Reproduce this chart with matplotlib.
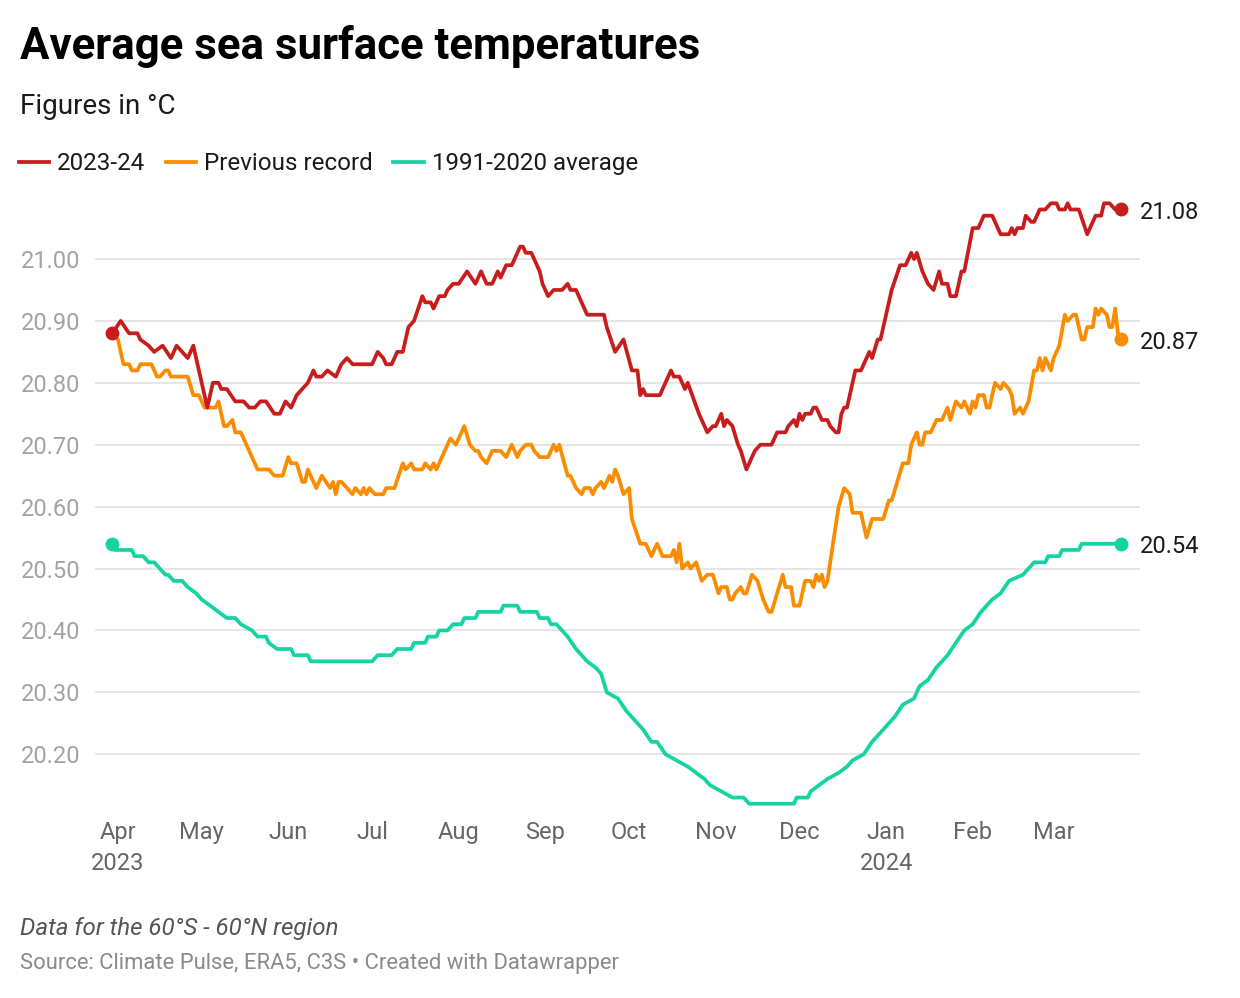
import matplotlib
matplotlib.use("Agg")
import matplotlib.pyplot as plt
import pandas as pd

plt.rcParams['font.family'] = ['Roboto', 'DejaVu Sans']

# days counted from 1 April 2023
red_days = [-2, 1, 4, 7, 8, 11, 13, 16, 19, 21, 25, 27, 32, 34, 36, 37, 39, 42, 45, 47, 49, 51, 53, 56, 58,
            60, 62, 64, 68, 70, 71, 73, 75, 78, 80, 82, 84, 91, 93, 95, 96, 98, 100, 102, 104, 106, 109, 110,
            112, 113, 115, 117, 118, 120, 122, 125, 128, 130, 132, 134, 136, 137, 139, 141, 142, 144, 145, 146,
            148, 151, 152, 154, 156, 159, 161, 162, 164, 168, 174, 175, 178, 181, 184, 186, 187, 188, 189, 194,
            198, 199, 201, 203, 204, 208, 211, 213, 214, 216, 217, 218, 220, 222, 223, 225, 228, 230, 234, 236,
            239, 240, 242, 243, 244, 245, 246, 248, 249, 250, 252, 254, 255, 257, 258, 259, 260, 261, 264, 266,
            269, 270, 272, 273, 275, 277, 280, 282, 284, 285, 286, 288, 290, 292, 294, 295, 297, 298, 300, 302,
            303, 306, 308, 310, 313, 316, 319, 320, 321, 322, 324, 325, 327, 328, 330, 332, 334, 336, 337, 339,
            340, 341, 344, 347, 350, 352, 353, 355, 357, 359]
red_vals = [20.88, 20.90, 20.88, 20.88, 20.87, 20.86, 20.85, 20.86, 20.84, 20.86, 20.84, 20.86, 20.76, 20.80,
            20.80, 20.79, 20.79, 20.77, 20.77, 20.76, 20.76, 20.77, 20.77, 20.75, 20.75, 20.77, 20.76, 20.78,
            20.80, 20.82, 20.81, 20.81, 20.82, 20.81, 20.83, 20.84, 20.83, 20.83, 20.85, 20.84, 20.83, 20.83,
            20.85, 20.85, 20.89, 20.90, 20.94, 20.93, 20.93, 20.92, 20.94, 20.94, 20.95, 20.96, 20.96, 20.98,
            20.96, 20.98, 20.96, 20.96, 20.98, 20.97, 20.99, 20.99, 21.00, 21.02, 21.02, 21.01, 21.01, 20.98,
            20.96, 20.94, 20.95, 20.95, 20.96, 20.95, 20.95, 20.91, 20.91, 20.89, 20.85, 20.87, 20.82, 20.82,
            20.78, 20.79, 20.78, 20.78, 20.82, 20.81, 20.81, 20.79, 20.80, 20.75, 20.72, 20.73, 20.73, 20.75,
            20.73, 20.74, 20.73, 20.70, 20.69, 20.66, 20.69, 20.70, 20.70, 20.72, 20.72, 20.73, 20.74, 20.73,
            20.75, 20.74, 20.75, 20.75, 20.76, 20.76, 20.74, 20.74, 20.73, 20.72, 20.72, 20.75, 20.76, 20.76,
            20.82, 20.82, 20.85, 20.84, 20.87, 20.87, 20.91, 20.95, 20.99, 20.99, 21.01, 21.00, 21.01, 20.98,
            20.96, 20.95, 20.98, 20.96, 20.96, 20.94, 20.94, 20.98, 20.98, 21.05, 21.05, 21.07, 21.07, 21.04,
            21.04, 21.05, 21.04, 21.05, 21.05, 21.07, 21.06, 21.06, 21.08, 21.08, 21.09, 21.09, 21.08, 21.08,
            21.09, 21.08, 21.08, 21.04, 21.07, 21.07, 21.09, 21.09, 21.08, 21.08]

rec_days = [-2, 0, 2, 4, 5, 7, 8, 12, 14, 15, 17, 18, 19, 25, 27, 29, 31, 35, 36, 38, 39, 41, 42, 44, 50, 54,
            56, 59, 61, 62, 64, 66, 67, 68, 71, 73, 76, 77, 78, 79, 80, 82, 84, 85, 87, 88, 89, 90, 92, 95, 96,
            99, 102, 103, 105, 106, 109, 110, 112, 113, 114, 116, 119, 121, 124, 126, 128, 129, 130, 132, 134,
            137, 139, 141, 143, 144, 146, 148, 149, 151, 154, 156, 157, 158, 161, 162, 164, 166, 167, 169, 170,
            171, 173, 174, 176, 177, 178, 179, 181, 183, 184, 187, 189, 191, 193, 195, 198, 199, 200, 201, 202,
            204, 205, 207, 209, 211, 213, 215, 216, 218, 219, 220, 221, 223, 224, 225, 227, 229, 231, 233, 234,
            236, 238, 239, 241, 242, 244, 246, 248, 249, 250, 251, 252, 253, 254, 258, 260, 262, 263, 266, 267,
            268, 270, 274, 276, 277, 279, 281, 283, 284, 286, 287, 288, 289, 291, 292, 293, 295, 296, 297, 298,
            300, 302, 303, 305, 306, 307, 308, 310, 311, 312, 314, 316, 317, 319, 320, 321, 323, 324, 326, 328,
            329, 330, 331, 332, 334, 335, 337, 339, 340, 342, 343, 345, 346, 347, 349, 350, 351, 352, 354, 355,
            356, 357, 358, 359]
rec_vals = [20.88, 20.87, 20.83, 20.83, 20.82, 20.82, 20.83, 20.83, 20.81, 20.81, 20.82, 20.82, 20.81, 20.81,
            20.78, 20.78, 20.76, 20.76, 20.77, 20.73, 20.73, 20.74, 20.72, 20.72, 20.66, 20.66, 20.65, 20.65,
            20.68, 20.67, 20.67, 20.64, 20.64, 20.66, 20.63, 20.65, 20.63, 20.64, 20.62, 20.64, 20.64, 20.63,
            20.62, 20.63, 20.62, 20.63, 20.62, 20.63, 20.62, 20.62, 20.63, 20.63, 20.67, 20.66, 20.67, 20.66,
            20.66, 20.67, 20.66, 20.67, 20.66, 20.68, 20.71, 20.70, 20.73, 20.70, 20.69, 20.69, 20.68, 20.67,
            20.69, 20.69, 20.68, 20.70, 20.68, 20.69, 20.70, 20.70, 20.69, 20.68, 20.68, 20.70, 20.69, 20.70,
            20.65, 20.65, 20.63, 20.62, 20.63, 20.63, 20.62, 20.63, 20.64, 20.63, 20.65, 20.64, 20.66, 20.65,
            20.62, 20.63, 20.58, 20.54, 20.54, 20.52, 20.54, 20.52, 20.52, 20.53, 20.51, 20.54, 20.50, 20.51,
            20.50, 20.51, 20.48, 20.49, 20.49, 20.46, 20.47, 20.47, 20.45, 20.45, 20.46, 20.47, 20.46, 20.46,
            20.49, 20.48, 20.45, 20.43, 20.43, 20.46, 20.49, 20.47, 20.47, 20.44, 20.44, 20.48, 20.48, 20.47,
            20.49, 20.48, 20.49, 20.47, 20.48, 20.60, 20.63, 20.62, 20.59, 20.59, 20.57, 20.55, 20.58, 20.58,
            20.61, 20.61, 20.64, 20.67, 20.67, 20.70, 20.72, 20.70, 20.70, 20.72, 20.72, 20.73, 20.74, 20.74,
            20.75, 20.76, 20.74, 20.77, 20.76, 20.77, 20.75, 20.77, 20.76, 20.78, 20.78, 20.76, 20.76, 20.80,
            20.79, 20.80, 20.79, 20.78, 20.75, 20.76, 20.75, 20.77, 20.82, 20.82, 20.84, 20.82, 20.84, 20.82,
            20.84, 20.86, 20.91, 20.90, 20.91, 20.91, 20.87, 20.87, 20.89, 20.89, 20.92, 20.91, 20.92, 20.91,
            20.89, 20.89, 20.92, 20.88, 20.87]

avg_days = [-2, -1, 5, 6, 9, 11, 13, 15, 17, 18, 20, 23, 25, 28, 30, 33, 36, 39, 42, 44, 48, 50, 53, 54, 57,
            62, 63, 68, 69, 91, 93, 98, 100, 105, 106, 110, 111, 114, 115, 118, 120, 123, 124, 128, 129, 137,
            138, 143, 144, 150, 151, 154, 155, 157, 161, 164, 168, 171, 173, 175, 179, 182, 184, 188, 191, 193,
            196, 200, 204, 207, 210, 212, 216, 220, 224, 226, 242, 243, 247, 248, 251, 254, 258, 261, 263, 267,
            270, 274, 278, 281, 285, 287, 290, 293, 297, 300, 303, 306, 309, 313, 316, 319, 324, 328, 332, 333,
            337, 338, 344, 345, 359]
avg_vals = [20.54, 20.53, 20.53, 20.52, 20.52, 20.51, 20.51, 20.50, 20.49, 20.49, 20.48, 20.48, 20.47, 20.46,
            20.45, 20.44, 20.43, 20.42, 20.42, 20.41, 20.40, 20.39, 20.39, 20.38, 20.37, 20.37, 20.36, 20.36,
            20.35, 20.35, 20.36, 20.36, 20.37, 20.37, 20.38, 20.38, 20.39, 20.39, 20.40, 20.40, 20.41, 20.41,
            20.42, 20.42, 20.43, 20.43, 20.44, 20.44, 20.43, 20.43, 20.42, 20.42, 20.41, 20.41, 20.39, 20.37,
            20.35, 20.34, 20.33, 20.30, 20.29, 20.27, 20.26, 20.24, 20.22, 20.22, 20.20, 20.19, 20.18, 20.17,
            20.16, 20.15, 20.14, 20.13, 20.13, 20.12, 20.12, 20.13, 20.13, 20.14, 20.15, 20.16, 20.17, 20.18,
            20.19, 20.20, 20.22, 20.24, 20.26, 20.28, 20.29, 20.31, 20.32, 20.34, 20.36, 20.38, 20.40, 20.41,
            20.43, 20.45, 20.46, 20.48, 20.49, 20.51, 20.51, 20.52, 20.52, 20.53, 20.53, 20.54, 20.54]

series_names = ["2023-24", "Previous record", "1991-2020 average"]
colors = ["#c71e1d", "#fa8c00", "#15d4a1"]
y_ticks = [20.2, 20.3, 20.4, 20.5, 20.6, 20.7, 20.8, 20.9, 21.0]
month_labels = ["Apr\n2023", "May", "Jun", "Jul", "Aug", "Sep", "Oct", "Nov", "Dec", "Jan\n2024", "Feb", "Mar"]

base = pd.Timestamp("2023-04-01")


def to_dates(days):
    return base + pd.to_timedelta(days, unit="D")


W, H = 1240, 998
fig = plt.figure(figsize=(W / 100, H / 100), dpi=100)
ax = fig.add_axes([95 / W, 1 - 810 / H, 1045 / W, 620 / H])

series = [(red_days, red_vals), (rec_days, rec_vals), (avg_days, avg_vals)]
lines = []
for (d, v), c, name, z in zip(series, colors, series_names, [5, 4, 3]):
    dates = to_dates(d)
    ln, = ax.plot(dates, v, color=c, lw=2.7, solid_joinstyle="round", zorder=z, label=name)
    lines.append(ln)
    if name != "Previous record":
        ax.plot(dates[:1], v[:1], "o", color=c, ms=9, zorder=z + 1)
    ax.plot(dates[-1:], v[-1:], "o", color=c, ms=9, zorder=z + 1)
    ax.annotate(f"{v[-1]:.2f}", (dates[-1], v[-1]), xytext=(14, -2), textcoords="offset points",
                va="center", ha="left", fontsize=17, color="#1a1a1a", annotation_clip=False)

ax.set_xlim(base + pd.Timedelta(days=-8.2), base + pd.Timedelta(days=365.9))
ax.set_ylim(20.1099, 21.1115)

ax.set_yticks(y_ticks)
ax.set_yticklabels([f"{t:.2f}" for t in y_ticks])
ax.grid(axis="y", color="#e1e1e1", lw=1.2, zorder=0)
ax.tick_params(axis="y", length=0, pad=10.5, labelsize=17, labelcolor="#a3a3a3")

ax.set_xticks(pd.date_range("2023-04-01", "2024-03-01", freq="MS"))
ax.set_xticklabels(month_labels, linespacing=1.45)
ax.tick_params(axis="x", length=0, pad=8, labelsize=17, labelcolor="#666666")

for s in ax.spines.values():
    s.set_visible(False)

fig.text(20 / W, 1 - 47 / H, "Average sea surface temperatures", fontsize=31.5, fontweight="bold",
         va="center", ha="left", color="#000000")
fig.text(20 / W, 1 - 107 / H, "Figures in °C", fontsize=20, va="center", ha="left", color="#1a1a1a")

fig.legend(handles=lines, loc="center left", bbox_to_anchor=(19 / W, 1 - 164 / H), ncol=3, frameon=False,
           fontsize=17.4, handlelength=1.25, handletextpad=0.33, columnspacing=0.85, borderpad=0,
           borderaxespad=0, labelcolor="#1a1a1a")

fig.text(20 / W, 1 - 928 / H, "Data for the 60°S - 60°N region", fontsize=17.4, style="italic",
         va="center", ha="left", color="#555555")
fig.text(20 / W, 1 - 964 / H, "Source: Climate Pulse, ERA5, C3S • Created with Datawrapper", fontsize=15.8,
         va="center", ha="left", color="#8a8a8a")

fig.savefig("out.png", dpi=100)
